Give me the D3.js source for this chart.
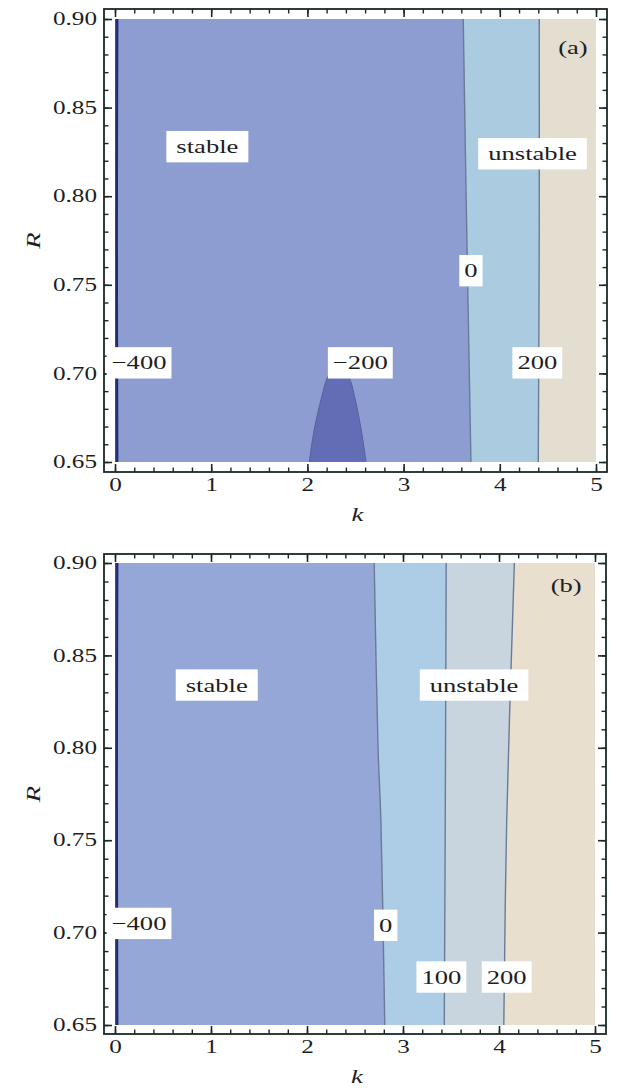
<!DOCTYPE html>
<html>
<head>
<meta charset="utf-8">
<script src="https://cdn.jsdelivr.net/npm/d3@7"></script>
<style>
	body { margin: 0; background: #fff; }
	svg { display: block; }
	text { font-family: 'Liberation Serif', 'DejaVu Serif', serif; fill: #1e1e1e; }
</style>
</head>
<body>
<svg id="chart" width="617" height="1091"></svg>
<script>
const K_DOMAIN = [0, 5];
const R_DOMAIN = [0.65, 0.9];
const K_MAJOR = [0, 1, 2, 3, 4, 5];
const R_MAJOR = [0.65, 0.7, 0.75, 0.8, 0.85, 0.9];

// contour lines, [k, R]
const A_M400 = [[0.025, 0.9], [0.02, 0.78], [0.025, 0.65]];
const A_ZERO = [[3.62, 0.9], [3.65, 0.8], [3.7, 0.65]];
const A_200 = [[4.41, 0.9], [4.41, 0.78], [4.4, 0.65]];
const A_M200 = [
	[2.02, 0.65], [2.07, 0.668], [2.15, 0.687], [2.21, 0.698], [2.31, 0.706],
	[2.43, 0.698], [2.49, 0.687], [2.56, 0.668], [2.61, 0.65]
];

const B_M400 = [[0.025, 0.9], [0.02, 0.78], [0.025, 0.65]];
const B_ZERO = [[2.7, 0.9], [2.74, 0.8], [2.77, 0.76], [2.81, 0.65]];
const B_100 = [[3.45, 0.9], [3.44, 0.76], [3.43, 0.65]];
const B_200 = [[4.16, 0.9], [4.08, 0.76], [4.05, 0.65]];

const A_LABELS = [
	{ text: 'stable', k: 0.96, r: 0.828 },
	{ text: 'unstable', k: 4.34, r: 0.824 },
	{ text: '0', k: 3.7, r: 0.758 },
	{ text: '\u2212400', k: 0.25, r: 0.706 },
	{ text: '\u2212200', k: 2.55, r: 0.706 },
	{ text: '200', k: 4.39, r: 0.706 }
];
const B_LABELS = [
	{ text: 'stable', k: 1.06, r: 0.834 },
	{ text: 'unstable', k: 3.74, r: 0.834 },
	{ text: '\u2212400', k: 0.25, r: 0.705 },
	{ text: '0', k: 2.82, r: 0.704 },
	{ text: '100', k: 3.4, r: 0.676 },
	{ text: '200', k: 4.08, r: 0.676 }
];

const SX = 1.4;
const FONT_TICK = 18;
const FONT_LABEL = 19;

const PANELS = [
	{
		tag: '(a)', tagAt: [4.76, 0.884],
		frame: { l: 104, t: 9, r: 607, b: 472 },
		plot: { l: 115, r: 596, t: 19, b: 462 },
		base: '#e3decf',
		bands: [
			{ line: A_200, fill: '#abcce0' },
			{ line: A_ZERO, fill: '#8e9dd1' },
			{ line: A_M400, fill: '#3c4895' }
		],
		island: { line: A_M200, fill: '#636db5' },
		labels: A_LABELS
	},
	{
		tag: '(b)', tagAt: [4.7, 0.888],
		frame: { l: 104, t: 554, r: 606, b: 1034 },
		plot: { l: 115, r: 595, t: 563, b: 1025 },
		base: '#e9dfcf',
		bands: [
			{ line: B_200, fill: '#c9d5de' },
			{ line: B_100, fill: '#adcde6' },
			{ line: B_ZERO, fill: '#95a7d6' },
			{ line: B_M400, fill: '#3c4895' }
		],
		island: null,
		labels: B_LABELS
	}
];

const svg = d3.select('#chart');

function stretchText(sel) {
	sel.attr('transform', `scale(${SX},1)`).attr('x', function() {
		return +(this.getAttribute('x') || 0) / SX;
	});
}

function drawPanel(p) {
	const x = d3.scaleLinear().domain(K_DOMAIN).range([p.plot.l, p.plot.r]);
	const y = d3.scaleLinear().domain(R_DOMAIN).range([p.plot.b, p.plot.t]);
	const f = p.frame;

	const g = svg.append('g').attr('class', 'panel');

	const line = d3.line().x(d => x(d[0])).y(d => y(d[1]));
	const smooth = d3.line().x(d => x(d[0])).y(d => y(d[1])).curve(d3.curveCatmullRom);

	// filled bands
	g.append('rect')
		.attr('x', x(0)).attr('y', y(0.9))
		.attr('width', x(5) - x(0)).attr('height', y(0.65) - y(0.9))
		.attr('fill', p.base);

	p.bands.forEach(b => {
		const poly = [[0, 0.9], ...b.line, [0, 0.65]];
		g.append('path').attr('d', line(poly) + 'Z').attr('fill', b.fill);
	});

	if (p.island) {
		g.append('path')
			.attr('d', smooth(p.island.line) + 'Z')
			.attr('fill', p.island.fill);
		g.append('path')
			.attr('d', smooth(p.island.line))
			.attr('fill', 'none')
			.attr('stroke', '#56609f')
			.attr('stroke-width', 1);
	}

	p.bands.forEach((b, i) => {
		g.append('path')
			.attr('d', smooth(b.line))
			.attr('fill', 'none')
			.attr('stroke', i === p.bands.length - 1 ? '#1f2a70' : '#6a7b96')
			.attr('stroke-width', i === p.bands.length - 1 ? 2 : 1.4);
	});

	// frame
	g.append('rect')
		.attr('x', f.l).attr('y', f.t)
		.attr('width', f.r - f.l).attr('height', f.b - f.t)
		.attr('fill', 'none')
		.attr('stroke', '#1b2828')
		.attr('stroke-width', 1.8);

	const axes = [
		{ gen: d3.axisBottom, scale: x, pos: `translate(0,${f.b})`, major: K_MAJOR, minor: x.ticks(25), label: true, fmt: d3.format('d') },
		{ gen: d3.axisTop, scale: x, pos: `translate(0,${f.t})`, major: K_MAJOR, minor: x.ticks(25), label: false },
		{ gen: d3.axisLeft, scale: y, pos: `translate(${f.l},0)`, major: R_MAJOR, minor: y.ticks(25), label: true, fmt: d3.format('.2f') },
		{ gen: d3.axisRight, scale: y, pos: `translate(${f.r},0)`, major: R_MAJOR, minor: y.ticks(25), label: false }
	];

	axes.forEach(a => {
		const minor = a.gen(a.scale)
			.tickValues(a.minor)
			.tickSizeInner(-4.5)
			.tickSizeOuter(0)
			.tickFormat('');
		const gm = g.append('g').attr('transform', a.pos).call(minor);
		gm.select('.domain').remove();
		gm.selectAll('line').attr('stroke', '#1b2828').attr('stroke-width', 1.4);

		const major = a.gen(a.scale)
			.tickValues(a.major)
			.tickSizeInner(-8)
			.tickSizeOuter(0)
			.tickPadding(a.gen === d3.axisLeft ? 7 : 6)
			.tickFormat(a.label ? a.fmt : '');
		const ga = g.append('g').attr('transform', a.pos).call(major);
		ga.select('.domain').remove();
		ga.attr('font-family', null).attr('font-size', FONT_TICK);
		ga.selectAll('line').attr('stroke', '#1b2828').attr('stroke-width', 1.6);
		ga.selectAll('text').attr('fill', '#1e1e1e').call(stretchText);
	});

	// axis titles
	g.append('text')
		.attr('transform', `translate(${(f.l + f.r) / 2 + 2},${f.b + 49}) scale(${SX},1)`)
		.attr('text-anchor', 'middle')
		.attr('font-style', 'italic')
		.attr('font-size', FONT_LABEL)
		.text('k');

	g.append('text')
		.attr('transform', `translate(40,${(f.t + f.b) / 2}) rotate(-90) scale(${SX},1)`)
		.attr('text-anchor', 'middle')
		.attr('font-style', 'italic')
		.attr('font-size', FONT_LABEL)
		.text('R');

	// contour labels in white boxes
	p.labels.forEach(d => {
		const lg = g.append('g').attr('transform', `translate(${x(d.k)},${y(d.r)})`);
		const t = lg.append('text')
			.attr('text-anchor', 'middle')
			.attr('dy', '0.35em')
			.attr('font-size', FONT_LABEL)
			.attr('transform', `scale(${SX},1)`)
			.text(d.text);
		const bb = t.node().getBBox();
		const padX = d.text.length > 4 ? 10 : 5;
		lg.insert('rect', 'text')
			.attr('x', bb.x * SX - padX)
			.attr('y', bb.y - 5)
			.attr('width', bb.width * SX + padX * 2)
			.attr('height', bb.height + 10)
			.attr('fill', '#fff');
	});

	g.append('text')
		.attr('transform', `translate(${x(p.tagAt[0])},${y(p.tagAt[1])}) scale(${SX},1)`)
		.attr('text-anchor', 'middle')
		.attr('dy', '0.35em')
		.attr('font-size', FONT_LABEL)
		.text(p.tag);
}

PANELS.forEach(drawPanel);
</script>
</body>
</html>
